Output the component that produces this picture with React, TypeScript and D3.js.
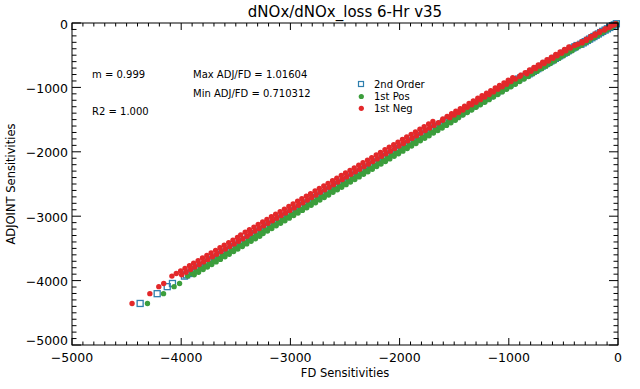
import React from 'react';
import * as d3 from 'd3';

// ADJOINT sensitivities (y), shared by the three FD estimates
const adjoint = [
  -4355, -4203, -4094, -4045,
  -3930, -3911, -3890, -3871, -3850, -3829, -3810, -3790,
  -3769, -3750, -3731, -3710, -3690, -3671, -3650, -3629,
  -3610, -3590, -3571, -3550, -3530, -3511, -3490, -3470,
  -3451, -3430, -3410, -3390, -3371, -3350, -3330, -3311,
  -3290, -3270, -3249, -3230, -3210, -3190, -3169, -3150, -3130, -3110,
  -3089, -3070, -3050, -3030, -3009, -2990, -2970, -2950, -2929, -2910,
  -2890, -2870, -2849, -2830, -2810, -2790, -2769, -2750, -2730, -2710,
  -2689, -2670, -2650, -2630, -2609, -2590, -2570, -2550, -2529, -2510,
  -2490, -2470, -2449, -2430, -2410, -2390, -2369, -2350, -2330, -2310,
  -2289, -2270, -2250, -2230, -2209, -2190, -2170, -2150, -2129, -2110,
  -2090, -2070, -2049, -2030, -2010, -1990, -1969, -1950, -1930, -1910,
  -1889, -1870, -1850, -1830, -1809, -1790, -1770, -1750, -1729, -1710,
  -1690, -1670, -1649, -1630, -1610, -1590, -1569, -1550, -1530, -1510,
  -1489, -1470, -1450, -1430, -1409, -1390, -1370, -1350, -1329, -1310,
  -1290, -1270, -1249, -1230, -1210, -1190, -1169, -1150, -1130, -1110,
  -1089, -1070, -1050, -1030, -1009, -990, -970, -950, -929, -910,
  -890, -870, -849, -830,
  -810, -789, -770, -750, -730, -709, -690, -670, -650, -629,
  -610, -590, -570, -549, -530, -510, -490, -469, -450, -430,
  -410, -389, -370, -350,
  -330, -309, -290, -270, -250, -229, -210, -190, -170, -149,
  -130, -110, -90, -69, -50, -30, -12,
];

// FD sensitivities (x), 2nd order
const fd2nd = [
  -4376, -4220, -4128, -4080,
  -3970, -3951, -3930, -3911, -3890, -3869, -3850, -3830,
  -3809, -3790, -3771, -3750, -3730, -3711, -3690, -3669,
  -3650, -3630, -3611, -3590, -3570, -3551, -3530, -3510,
  -3491, -3470, -3450, -3430, -3411, -3390, -3370, -3351,
  -3340, -3320, -3299, -3280, -3260, -3240, -3219, -3200, -3180, -3160,
  -3139, -3120, -3100, -3080, -3059, -3040, -3020, -3000, -2979, -2960,
  -2940, -2920, -2899, -2880, -2860, -2840, -2819, -2800, -2780, -2760,
  -2739, -2720, -2700, -2680, -2659, -2640, -2620, -2600, -2579, -2560,
  -2540, -2520, -2499, -2480, -2460, -2440, -2419, -2400, -2380, -2360,
  -2339, -2320, -2300, -2280, -2259, -2240, -2220, -2200, -2179, -2160,
  -2140, -2120, -2099, -2080, -2060, -2040, -2019, -2000, -1980, -1960,
  -1939, -1920, -1900, -1880, -1859, -1840, -1820, -1800, -1779, -1760,
  -1740, -1720, -1699, -1680, -1660, -1640, -1619, -1600, -1580, -1560,
  -1529, -1510, -1490, -1470, -1449, -1430, -1410, -1390, -1369, -1350,
  -1330, -1310, -1289, -1270, -1250, -1230, -1209, -1190, -1170, -1150,
  -1129, -1110, -1090, -1070, -1049, -1030, -1010, -990, -969, -950,
  -930, -910, -889, -870,
  -835, -814, -795, -775, -755, -734, -715, -695, -675, -654,
  -635, -615, -595, -574, -555, -535, -515, -494, -475, -455,
  -435, -414, -395, -375,
  -340, -319, -300, -280, -260, -239, -220, -200, -180, -159,
  -140, -118, -97, -75, -55, -34, -15,
];

// 1st order, positive perturbation
const fdPos = [
  -4309, -4162, -4065, -4015,
  -3940, -3881, -3900, -3841, -3860, -3799, -3820, -3760,
  -3779, -3720, -3741, -3680, -3700, -3641, -3660, -3599,
  -3620, -3560, -3581, -3520, -3540, -3481, -3500, -3440,
  -3461, -3400, -3420, -3360, -3381, -3320, -3340, -3281,
  -3310, -3250, -3269, -3210, -3230, -3170, -3189, -3130, -3150, -3090,
  -3109, -3050, -3070, -3010, -3029, -2970, -2990, -2930, -2949, -2890,
  -2910, -2850, -2869, -2810, -2830, -2770, -2789, -2730, -2750, -2690,
  -2709, -2650, -2670, -2610, -2629, -2570, -2590, -2530, -2549, -2490,
  -2510, -2450, -2469, -2410, -2430, -2370, -2389, -2330, -2350, -2290,
  -2309, -2250, -2270, -2210, -2229, -2170, -2190, -2130, -2149, -2090,
  -2110, -2050, -2069, -2010, -2030, -1970, -1989, -1930, -1950, -1890,
  -1909, -1850, -1870, -1810, -1829, -1770, -1790, -1730, -1749, -1690,
  -1710, -1650, -1669, -1610, -1630, -1570, -1589, -1530, -1550, -1490,
  -1511, -1460, -1472, -1420, -1431, -1380, -1392, -1340, -1351, -1300,
  -1312, -1260, -1271, -1220, -1232, -1180, -1191, -1140, -1152, -1100,
  -1111, -1060, -1072, -1020, -1031, -980, -992, -940, -951, -900,
  -912, -860, -871, -820,
  -823, -779, -783, -740, -743, -699, -703, -660, -663, -619,
  -623, -580, -583, -539, -543, -500, -503, -459, -463, -420,
  -423, -379, -383, -340,
  -334, -301, -294, -262, -254, -221, -214, -182, -174, -141,
  -134, -102, -94, -62, -53, -24, -14,
];

// 1st order, negative perturbation
const fdNeg = [
  -4450, -4287, -4205, -4160,
  -4085, -3996, -4045, -3956, -4005, -3914, -3965, -3875,
  -3924, -3835, -3886, -3795, -3845, -3756, -3805, -3714,
  -3765, -3675, -3726, -3635, -3685, -3596, -3645, -3555,
  -3606, -3515, -3565, -3475, -3526, -3435, -3485, -3396,
  -3455, -3365, -3414, -3325, -3375, -3285, -3334, -3245, -3295, -3205,
  -3254, -3165, -3215, -3125, -3174, -3085, -3135, -3045, -3094, -3005,
  -3055, -2965, -3014, -2925, -2975, -2885, -2934, -2845, -2895, -2805,
  -2854, -2765, -2815, -2725, -2774, -2685, -2735, -2645, -2694, -2605,
  -2655, -2565, -2614, -2525, -2575, -2485, -2534, -2445, -2495, -2405,
  -2454, -2365, -2415, -2325, -2374, -2285, -2335, -2245, -2294, -2205,
  -2255, -2165, -2214, -2125, -2175, -2085, -2134, -2045, -2095, -2005,
  -2054, -1965, -2015, -1925, -1974, -1885, -1935, -1845, -1894, -1805,
  -1855, -1765, -1814, -1725, -1775, -1685, -1734, -1645, -1695, -1605,
  -1604, -1540, -1565, -1500, -1524, -1460, -1485, -1420, -1444, -1380,
  -1405, -1340, -1364, -1300, -1325, -1260, -1284, -1220, -1245, -1180,
  -1204, -1140, -1165, -1100, -1124, -1060, -1085, -1020, -1044, -980,
  -1005, -940, -964, -900,
  -890, -836, -850, -797, -810, -756, -770, -717, -730, -676,
  -690, -637, -650, -596, -610, -557, -570, -516, -530, -477,
  -490, -436, -450, -397,
  -370, -329, -330, -290, -290, -249, -250, -210, -210, -169,
  -165, -125, -115, -80, -68, -37, -22,
];

const statsLeft = ['m = 0.999', 'R2 = 1.000'];
const statsRight = ['Max ADJ/FD = 1.01604', 'Min ADJ/FD = 0.710312'];
const legendNames = ['2nd Order', '1st Pos', '1st Neg'];

const BLUE = '#2f7fae';
const GREEN = '#3c9e3c';
const RED = '#e3282a';

const W = 640;
const H = 389;
const L = 72, R = 618, T = 23, B = 345;

export default function App() {
  const x = d3.scaleLinear().domain([-5000, 0]).range([L, R]);
  const y = d3.scaleLinear().domain([-5000, 0]).range([B, T]);
  const fmt = d3.format('d');
  const major = x.ticks(5);
  const minor = x.ticks(50).filter(v => major.indexOf(v) < 0);
  const n = Math.min(adjoint.length, fd2nd.length, fdPos.length, fdNeg.length);
  const idx = d3.range(n);

  return (
    <svg width={W} height={H} style={{ position: 'absolute', left: 0, top: 0, background: '#fff' }}
      fontFamily="DejaVu Sans">
      <rect width={W} height={H} fill="#fff" />

      {/* title */}
      <text x={(L + R) / 2} y={17} textAnchor="middle" fontSize={15}>dNOx/dNOx_loss 6-Hr v35</text>

      {/* data: 2nd order squares, then 1st pos, then 1st neg on top */}
      <g>
        {idx.map(i => (
          <rect key={'s' + i} x={x(fd2nd[i]) - 3} y={y(adjoint[i]) - 3} width={6} height={6}
            fill="none" stroke={BLUE} strokeWidth={1.3} />
        ))}
        {idx.map(i => (
          <circle key={'p' + i} cx={x(fdPos[i])} cy={y(adjoint[i])} r={2.7} fill={GREEN} />
        ))}
        {idx.map(i => (
          <circle key={'n' + i} cx={x(fdNeg[i])} cy={y(adjoint[i])} r={2.7} fill={RED} />
        ))}
      </g>

      {/* frame */}
      <rect x={L} y={T} width={R - L} height={B - T} fill="none" stroke="#000" strokeWidth={1} />

      {/* ticks on all four sides */}
      <g stroke="#000" strokeWidth={1}>
        {major.map(v => (
          <g key={'xm' + v}>
            <line x1={x(v)} x2={x(v)} y1={B} y2={B - 7} />
            <line x1={x(v)} x2={x(v)} y1={T} y2={T + 7} />
            <line x1={L} x2={L + 9} y1={y(v)} y2={y(v)} />
            <line x1={R} x2={R - 9} y1={y(v)} y2={y(v)} />
          </g>
        ))}
        {minor.map(v => (
          <g key={'xn' + v}>
            <line x1={x(v)} x2={x(v)} y1={B} y2={B - 3.5} />
            <line x1={x(v)} x2={x(v)} y1={T} y2={T + 3.5} />
            <line x1={L} x2={L + 4.5} y1={y(v)} y2={y(v)} />
            <line x1={R} x2={R - 4.5} y1={y(v)} y2={y(v)} />
          </g>
        ))}
      </g>

      {/* tick labels */}
      <g fontSize={12.5}>
        {major.map(v => (
          <text key={'xl' + v} x={x(v)} y={362} textAnchor="middle">{fmt(v)}</text>
        ))}
        {major.map(v => (
          <text key={'yl' + v} x={L - 4} y={Math.min(y(v) + 5.5, B - 0.5)} textAnchor="end">{fmt(v)}</text>
        ))}
      </g>

      {/* axis titles */}
      <text x={(L + R) / 2} y={377} textAnchor="middle" fontSize={11.5}>FD Sensitivities</text>
      <text transform={`translate(15,${(T + B) / 2}) rotate(-90)`} textAnchor="middle" fontSize={11.5}>
        ADJOINT Sensitivities
      </text>

      {/* stats */}
      <g fontSize={10}>
        {statsLeft.map((s, i) => (
          <text key={s} x={92} y={78 + i * 37}>{s}</text>
        ))}
        {statsRight.map((s, i) => (
          <text key={s} x={193} y={78 + i * 18.5}>{s}</text>
        ))}
      </g>

      {/* legend */}
      <g fontSize={10}>
        <rect x={358.5} y={81.5} width={5} height={5} fill="none" stroke={BLUE} strokeWidth={1.2} />
        <circle cx={361.3} cy={96.5} r={2.6} fill={GREEN} />
        <circle cx={361.3} cy={108.3} r={2.6} fill={RED} />
        {legendNames.map((s, i) => (
          <text key={s} x={374} y={88 + i * 12}>{s}</text>
        ))}
      </g>
    </svg>
  );
}
